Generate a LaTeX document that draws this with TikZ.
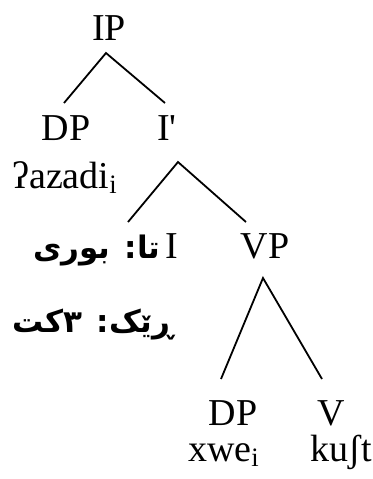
\documentclass[tikz,border=0pt]{standalone}
\usepackage{fontspec}
\setmainfont{Liberation Serif}
\newfontfamily\arabicfont[Script=Arabic]{DejaVu Sans}
\TeXXeTstate=1

\begin{document}
\begin{tikzpicture}[x=0.5pt,y=-0.5pt,
  lbl/.style={font=\fontsize{19}{23}\selectfont, inner sep=0pt, anchor=base},
  ku/.style={font=\arabicfont\bfseries\fontsize{15.5}{19}\selectfont, inner sep=0pt, anchor=base east},
  branch/.style={line width=0.9pt}]
\useasboundingbox (0,0) rectangle (372,479);

%Labels
\node [lbl] (ip) at (109,40) {IP};
\node [lbl] (dp) at (66,140) {DP};
\node [lbl] (ibar) at (167,140) {I\textquotesingle};
\node [lbl] (azadi) at (65,188) {ʔazadi\textsubscript{i}};
\node [lbl] (infl) at (172,258) {I};
\node [lbl] (vp) at (265,258) {VP};
\node [lbl] (dpo) at (233,425) {DP};
\node [lbl] (verb) at (331,425) {V};
\node [lbl] (xwe) at (224,461) {xwe\textsubscript{i}};
\node [lbl] (kust) at (341,461) {kuʃt};

%Kurdish glosses
\node [ku] (tense) at (161,258) {\beginR تا: بوری\endR};
\node [ku] (agr) at (174,332) {\beginR ڕێک: ٣کت\endR};

%Branch points
\coordinate (ip-a) at (106,53);
\coordinate (dp-t) at (64,103);
\coordinate (ibar-t) at (165,103);
\coordinate (ibar-a) at (178,162);
\coordinate (infl-t) at (128,222);
\coordinate (vp-t) at (246,222);
\coordinate (vp-a) at (263,278);
\coordinate (dpo-t) at (221,379);
\coordinate (verb-t) at (322,379);

%Branches
\draw [branch] (dp-t) -- (ip-a) -- (ibar-t);
\draw [branch] (infl-t) -- (ibar-a) -- (vp-t);
\draw [branch] (dpo-t) -- (vp-a) -- (verb-t);

\end{tikzpicture}
\end{document}
